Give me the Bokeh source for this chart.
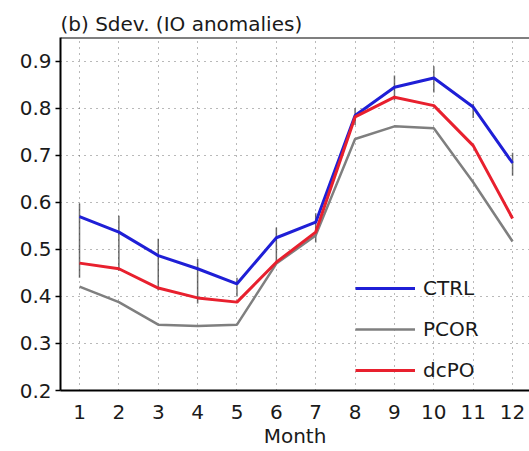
from bokeh.plotting import figure
from bokeh.models import FixedTicker, Legend, LegendItem, Span
from bokeh.embed import file_html
from bokeh.resources import INLINE

# Monthly standard deviation of IO anomalies for three experiments
months = [1, 2, 3, 4, 5, 6, 7, 8, 9, 10, 11, 12]
ctrl = [0.570, 0.537, 0.487, 0.459, 0.427, 0.525, 0.558, 0.785, 0.845, 0.865, 0.803, 0.684]
pcor = [0.421, 0.388, 0.340, 0.337, 0.340, 0.470, 0.530, 0.735, 0.762, 0.758, 0.643, 0.517]
dcpo = [0.471, 0.459, 0.418, 0.397, 0.388, 0.473, 0.537, 0.782, 0.824, 0.806, 0.721, 0.566]

# Spread of CTRL (vertical bars)
ctrl_lo = [0.440, 0.455, 0.413, 0.385, 0.400, 0.470, 0.515, 0.765, 0.817, 0.834, 0.780, 0.657]
ctrl_hi = [0.598, 0.572, 0.523, 0.480, 0.440, 0.547, 0.577, 0.800, 0.870, 0.890, 0.810, 0.706]

y_ticks = [0.2, 0.3, 0.4, 0.5, 0.6, 0.7, 0.8, 0.9]

FONT = "DejaVu Sans"
TXT = "#1a1a1a"

p = figure(width=529, height=451, output_backend="svg", toolbar_location=None,
           x_range=(0.517, 12.43), y_range=(0.2, 0.951),
           min_border_left=60, min_border_right=0, min_border_top=37, min_border_bottom=61,
           title="(b) Sdev. (IO anomalies)")

p.title.text_font = FONT
p.title.text_font_size = "20px"
p.title.text_font_style = "normal"
p.title.text_color = TXT
p.title.align = "left"
p.title.standoff = 3

p.outline_line_color = None
p.background_fill_color = "white"
p.border_fill_color = "white"

# axes
for ax in (p.xaxis[0], p.yaxis[0]):
    ax.axis_line_color = "black"
    ax.axis_line_width = 2
    ax.major_label_text_font = FONT
    ax.major_label_text_font_size = "20px"
    ax.major_label_text_color = TXT
    ax.minor_tick_line_color = None
    ax.major_tick_line_color = "black"
    ax.major_tick_line_width = 1.5

p.xaxis.ticker = FixedTicker(ticks=months)
p.xaxis.major_tick_out = 0
p.xaxis.major_tick_in = 0
p.xaxis.major_label_standoff = 14
p.xaxis.axis_label = "Month"
p.xaxis.axis_label_text_font = FONT
p.xaxis.axis_label_text_font_size = "20px"
p.xaxis.axis_label_text_font_style = "normal"
p.xaxis.axis_label_text_color = TXT
p.xaxis.axis_label_standoff = 2

p.yaxis.ticker = FixedTicker(ticks=y_ticks)
p.yaxis.major_tick_out = 5
p.yaxis.major_tick_in = 0
p.yaxis.major_label_standoff = 4
p.yaxis.major_label_overrides = {t: f"{t:.1f}" for t in y_ticks}

# dotted grid
for g in (p.xgrid[0], p.ygrid[0]):
    g.grid_line_color = "#444444"
    g.grid_line_alpha = 0.75
    g.grid_line_dash = "1 5"
    g.grid_line_width = 1

# top frame line
p.add_layout(Span(location=0.951, dimension="width", line_color="black", line_width=2))

# spread bars
p.segment(x0=months, y0=ctrl_lo, x1=months, y1=ctrl_hi,
          line_color="#333333", line_width=1.5, line_alpha=0.7)

r_ctrl = p.line(months, ctrl, line_color="#1f1fd6", line_width=3)
r_pcor = p.line(months, pcor, line_color="#7f7f7f", line_width=2.5)
r_dcpo = p.line(months, dcpo, line_color="#e8202e", line_width=3)

legend = Legend(items=[LegendItem(label="CTRL", renderers=[r_ctrl]),
                       LegendItem(label="PCOR", renderers=[r_pcor]),
                       LegendItem(label="dcPO", renderers=[r_dcpo])],
                location=(295, 8), border_line_color=None, background_fill_alpha=0,
                padding=0, margin=0, spacing=17, glyph_width=60, glyph_height=20,
                label_height=20, label_standoff=8,
                label_text_font=FONT, label_text_font_size="20px", label_text_color=TXT)
p.add_layout(legend)

open("out.html", "w").write(file_html(p, INLINE))
